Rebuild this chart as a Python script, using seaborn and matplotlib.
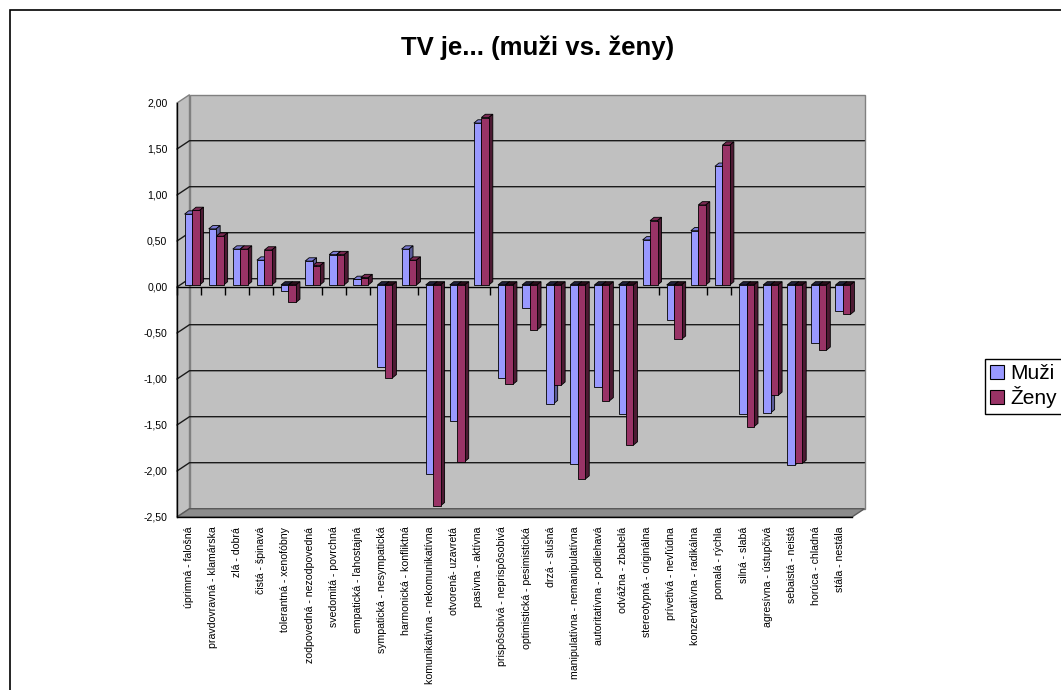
import numpy as np
import pandas as pd
import matplotlib
matplotlib.use("Agg")
import matplotlib.pyplot as plt
import matplotlib.transforms as mtransforms
from matplotlib.patches import Polygon, Rectangle
import seaborn as sns

# Semantic-differential pairs and mean scores for men and women
pairs = [
    "úprimná - falošná", "pravdovravná - klamárska", "zlá - dobrá", "čistá - špinavá",
    "tolerantná - xenofóbny", "zodpovedná - nezodpovedná", "svedomitá - povrchná",
    "empatická - ľahostajná", "sympatická - nesympatická", "harmonická - konfliktná",
    "komunikatívna - nekomunikatívna", "otvorená- uzavretá", "pasívna - aktívna",
    "prispôsobivá - neprispôsobivá", "optimistická - pesimistická", "drzá - slušná",
    "manipulatívna - nemanipulatívna", "autoritatívna - podliehavá", "odvážna - zbabelá",
    "stereotypná - originálna", "prívetivá - nevľúdna", "konzervatívna - radikálna",
    "pomalá - rýchla", "silná - slabá", "agresívna - ústupčivá", "sebaistá - neistá",
    "horúca - chladná", "stála - nestála",
]
muzi = [0.77, 0.61, 0.39, 0.27, -0.07, 0.26, 0.33, 0.06, -0.89, 0.39,
        -2.05, -1.48, 1.76, -1.01, -0.25, -1.29, -1.95, -1.11, -1.40, 0.49,
        -0.38, 0.59, 1.29, -1.40, -1.39, -1.96, -0.63, -0.28]
zeny = [0.81, 0.53, 0.39, 0.38, -0.19, 0.21, 0.33, 0.08, -1.01, 0.27,
        -2.40, -1.92, 1.82, -1.08, -0.49, -1.09, -2.11, -1.26, -1.74, 0.70,
        -0.59, 0.87, 1.52, -1.54, -1.20, -1.94, -0.71, -0.32]
series = ["Muži", "Ženy"]
y_ticks = [-2.5, -2.0, -1.5, -1.0, -0.5, 0.0, 0.5, 1.0, 1.5, 2.0]
title = "TV je... (muži vs. ženy)"

front_colors = ["#9999FF", "#993366"]
top_colors = ["#7B7BD4", "#7A2952"]
side_colors = ["#5C5C99", "#4D1A33"]
neg_top_colors = ["#20203A", "#2A0C1A"]

df = pd.DataFrame({
    "pair": pairs * 2,
    "value": muzi + zeny,
    "group": [series[0]] * len(pairs) + [series[1]] * len(pairs),
})

W, H, DPI = 1061, 690, 100
sns.set_style("white")
plt.rcParams["font.family"] = ["Liberation Sans", "DejaVu Sans"]
plt.rcParams["text.color"] = "black"
plt.rcParams["axes.labelcolor"] = "black"
plt.rcParams["xtick.color"] = "black"
plt.rcParams["ytick.color"] = "black"

fig = plt.figure(figsize=(W / DPI, H / DPI), dpi=DPI)
fig.patch.set_facecolor("white")


def px_rect(left, top, right, bottom):
    return [left / W, 1 - bottom / H, (right - left) / W, (bottom - top) / H]


# plot box in pixels (front face of the 3-D box)
L, T, R, B = 177, 103, 852, 517
pos = px_rect(L, T, R, B)
xmin, xmax = -0.5, len(pairs) - 0.5
ymin, ymax = -2.5, 2.0
px_per_cat = (R - L) / (xmax - xmin)
px_per_unit = (B - T) / (ymax - ymin)

# depth of the walls and of the bars, converted to data units
dxw, dyw = 12.5 / px_per_cat, 8.3 / px_per_unit
ddx, ddy = 4.0 / px_per_cat, 3.3 / px_per_unit

# ---- background: walls, floor, gridlines, zero axis ----
ax_bg = fig.add_axes(pos, label="walls")
ax_bg.set_xlim(xmin, xmax)
ax_bg.set_ylim(ymin, ymax)
ax_bg.patch.set_visible(False)
for s in ["left", "right", "bottom"]:
    ax_bg.spines[s].set_visible(False)
ax_bg.spines["top"].set_position(("data", 0))
ax_bg.spines["top"].set_linewidth(1.0)
ax_bg.spines["top"].set_color("black")
ax_bg.xaxis.set_ticks_position("top")
ax_bg.set_xticks(np.arange(xmin, xmax + 0.01, 1.0))
ax_bg.tick_params(axis="x", direction="in", length=6, width=1, labeltop=False, labelbottom=False)
ax_bg.set_yticks([])

wall_gray = "#C0C0C0"
ax_bg.add_patch(Polygon([(xmin, ymin), (xmin, ymax), (xmin + dxw, ymax + dyw), (xmin + dxw, ymin + dyw)],
                        closed=True, facecolor=wall_gray, edgecolor="#808080", lw=1, clip_on=False, zorder=0))
ax_bg.add_patch(Polygon([(xmin + dxw, ymin + dyw), (xmax + dxw, ymin + dyw), (xmax + dxw, ymax + dyw),
                         (xmin + dxw, ymax + dyw)],
                        closed=True, facecolor=wall_gray, edgecolor="#808080", lw=1, clip_on=False, zorder=0))
ax_bg.add_patch(Polygon([(xmin, ymin), (xmax, ymin), (xmax + dxw, ymin + dyw), (xmin + dxw, ymin + dyw)],
                        closed=True, facecolor="#8C8C8C", edgecolor="#5A5A5A", lw=1, clip_on=False, zorder=0.5))
for v in y_ticks[1:-1]:
    ax_bg.plot([xmin, xmin + dxw, xmax + dxw], [v, v + dyw, v + dyw], color="#1A1A1A", lw=1.0,
               clip_on=False, zorder=1)

# ---- bars ----
ax = fig.add_axes(pos, label="bars")
ax.patch.set_visible(False)
sns.barplot(data=df, x="pair", y="value", hue="group", hue_order=series, order=pairs,
            palette=front_colors, saturation=1, width=0.62, edgecolor="black", linewidth=0.6,
            legend=False, ax=ax, zorder=3)
ax.set_xlim(xmin, xmax)
ax.set_ylim(ymin, ymax)

offset = ax.transData + mtransforms.ScaledTranslation(3 / DPI, 2 / DPI, fig.dpi_scale_trans)
for k, cont in enumerate(ax.containers):
    for bar in cont:
        bar.set_transform(offset)
        x0, w = bar.get_x(), bar.get_width()
        y0, h = bar.get_y(), bar.get_height()
        lo, hi = min(y0, y0 + h), max(y0, y0 + h)
        x1 = x0 + w
        top = [(x0, hi), (x1, hi), (x1 + ddx, hi + ddy), (x0 + ddx, hi + ddy)]
        tcol = top_colors[k] if h >= 0 else neg_top_colors[k]
        side = [(x1, lo), (x1, hi), (x1 + ddx, hi + ddy), (x1 + ddx, lo + ddy)]
        for verts, col in ((top, tcol), (side, side_colors[k])):
            ax.add_patch(Polygon(verts, closed=True, facecolor=col, edgecolor="black", lw=0.6,
                                 transform=offset, zorder=2, clip_on=False))

# axes furniture
for s in ["top", "right"]:
    ax.spines[s].set_visible(False)
ax.spines["left"].set_color("black")
ax.spines["bottom"].set_color("black")
ax.spines["left"].set_linewidth(1.0)
ax.spines["bottom"].set_linewidth(1.0)
ax.set_yticks(y_ticks)
ax.set_yticklabels([f"{v:.2f}".replace(".", ",") for v in y_ticks])
ax.tick_params(axis="y", direction="out", length=5.5, width=1, labelsize=7.6, pad=1.5,
               colors="black")
ax.set_xticks(np.arange(len(pairs)))
ax.set_xticklabels(pairs, rotation=90, fontsize=7.6)
ax.set_xticks(np.arange(xmin, xmax + 0.01, 1.0), minor=True)
ax.tick_params(axis="x", which="major", length=0, pad=7, labelcolor="black")
ax.tick_params(axis="x", which="minor", direction="out", length=6.5, width=1, colors="black")
ax.set_xlabel("")
ax.set_ylabel("")

# title
fig.text(538 / W, 1 - 48 / H, title, ha="center", va="center", fontsize=18.5,
         fontweight="bold", color="black")

# legend
handles = [Rectangle((0, 0), 1, 1, facecolor=c, edgecolor="black", lw=0.8) for c in front_colors]
leg = fig.legend(handles, series, loc="upper left", bbox_to_anchor=(985 / W, 1 - 359 / H),
                 frameon=True, fancybox=False, edgecolor="black", framealpha=1, fontsize=15,
                 borderaxespad=0, handlelength=0.65, handleheight=0.65, handletextpad=0.3,
                 borderpad=0.25, labelspacing=0.15)
leg.get_frame().set_linewidth(1.0)
for t in leg.get_texts():
    t.set_color("black")

# chart border
fig.add_artist(Rectangle((10 / W, -0.1), 1.2, 1.1 - 10 / H, transform=fig.transFigure,
                         fill=False, edgecolor="black", lw=1.2))

fig.savefig("out.png", dpi=DPI)
